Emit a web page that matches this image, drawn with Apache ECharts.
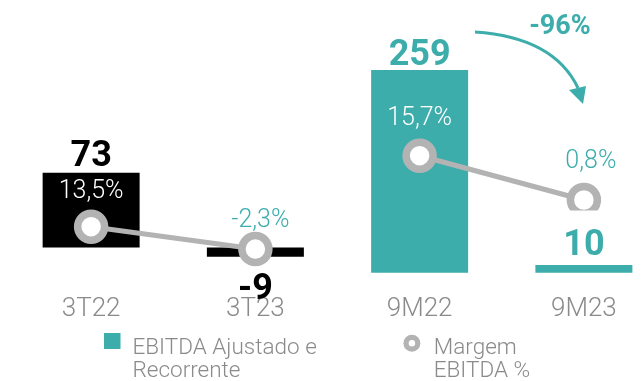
<!DOCTYPE html>
<html>
<head>
<meta charset="utf-8">
<script src="https://cdn.jsdelivr.net/npm/echarts@6/dist/echarts.min.js"></script>
<style>
  html, body { margin: 0; padding: 0; background: #fff; }
  #chart { width: 644px; height: 381px; }
</style>
</head>
<body>
<div id="chart"></div>
<script>
// Periods on the category axis
const categories = ['3T22', '3T23', '9M22', '9M23'];
// EBITDA Ajustado e Recorrente (R$ milhões): quarter block and nine-month block
const ebitdaQuarter = [73, -9, null, null];
const ebitdaNineMonths = [null, null, 259, 10];
// Margem EBITDA (%)
const marginQuarter = [13.5, -2.3, null, null];
const marginNineMonths = [null, null, 15.7, 0.8];
// Legend entries
const seriesNames = ['EBITDA Ajustado e\nRecorrente', 'Margem\nEBITDA %'];

const TEAL = '#3dadac';
const GRAY = '#b3b3b3';
const TEXT_GRAY = '#8a8a8a';
const FONT = 'Roboto';

// Label colour / gap / sideways nudge for each margin point
const marginLabelColors = ['#ffffff', TEAL, '#ffffff', TEAL];
const marginLabelGaps = [5, -1, 7, 9];
const marginLabelNudge = [0, 5, 0, 7];

const fmtPct = v => v.toFixed(1).replace('.', ',') + '%';

function marginData(values) {
  return values.map((v, i) => v == null ? '-' : {
    value: v,
    label: {
      color: marginLabelColors[i],
      distance: marginLabelGaps[i],
      offset: [marginLabelNudge[i], 0]
    }
  });
}

function barData(values) {
  return values.map(v => v == null ? '-' : {
    value: v,
    label: { position: v < 0 ? 'bottom' : 'top', distance: v < 0 ? 15 : -2 }
  });
}

// Nine-month value labels; the last one sits under the margin marker and
// gets a white backing that trims the marker's lower edge
function nineMonthLabelData(values) {
  const last = values.length - 1;
  return values.map((v, i) => v == null ? '-' : {
    value: v,
    label: i === last
      ? { distance: 0, backgroundColor: '#ffffff', padding: [18, 6, 0, 6] }
      : { distance: -5 }
  });
}

// Change between the two nine-month periods
const nmFirst = ebitdaNineMonths[2];
const nmLast = ebitdaNineMonths[3];
const changeText = Math.round((nmLast - nmFirst) / nmFirst * 100) + '%';

const chart = echarts.init(document.getElementById('chart'), null, { renderer: 'canvas' });

const marginLine = {
  type: 'line',
  name: seriesNames[1],
  symbol: 'circle',
  symbolSize: 27,
  z: 3,
  itemStyle: { color: '#ffffff', borderColor: GRAY, borderWidth: 7.5 },
  lineStyle: { color: GRAY, width: 5 },
  label: {
    show: true,
    position: 'top',
    fontFamily: FONT,
    fontSize: 25,
    fontWeight: 300,
    formatter: p => fmtPct(p.value)
  },
  emphasis: { disabled: true }
};

// Legend text: an empty leading line of height `lead` keeps the marker
// level with the first text line
function legendText(lead, padLeft) {
  return {
    color: TEXT_GRAY, fontFamily: FONT, fontSize: 22.5, fontWeight: 300,
    lineHeight: 23, padding: [0, 0, 0, padLeft],
    rich: { g: { lineHeight: lead, fontSize: 10 } }
  };
}

chart.setOption({
  animation: false,
  grid: { left: 9, width: 657, top: 0, height: 285, outerBoundsMode: 'none', containLabel: false },
  xAxis: {
    type: 'category',
    data: categories,
    axisLine: { show: false },
    axisTick: { show: false },
    axisLabel: {
      color: TEXT_GRAY,
      fontFamily: FONT,
      fontSize: 26,
      fontWeight: 300,
      margin: 11
    }
  },
  yAxis: [
    { type: 'value', show: false, min: -36.6, max: 241.5 },  // EBITDA, quarter
    { type: 'value', show: false, min: -15.7, max: 348.4 },  // EBITDA, nine months
    { type: 'value', show: false, min: -27.8, max: 174.2 },  // margin, quarter
    { type: 'value', show: false, min: -27.8, max: 68.1 }    // margin, nine months
  ],
  legend: [
    {
      data: [{ name: seriesNames[0], icon: 'rect', itemStyle: { color: TEAL } }],
      left: 104, top: 299.5, padding: 0,
      itemWidth: 16.5, itemHeight: 16,
      selectedMode: false,
      formatter: name => '{g| }\n' + name,
      textStyle: legendText(37, 7)
    },
    {
      data: [{
        name: seriesNames[1], icon: 'circle',
        itemStyle: { color: '#ffffff', borderColor: GRAY, borderWidth: 5.25 }
      }],
      left: 403.4, top: 304, padding: 0,
      itemWidth: 11.75, itemHeight: 11.75,
      selectedMode: false,
      formatter: name => '{g| }\n' + name,
      textStyle: legendText(32.4, 11)
    }
  ],
  series: [
    {
      type: 'bar',
      name: seriesNames[0],
      yAxisIndex: 0,
      data: barData(ebitdaQuarter),
      barWidth: 97,
      barGap: '-100%',
      itemStyle: { color: '#000000' },
      label: {
        show: true,
        color: '#000000',
        fontFamily: FONT,
        fontSize: 36,
        fontWeight: 'bold'
      },
      emphasis: { disabled: true }
    },
    {
      type: 'bar',
      name: seriesNames[0],
      yAxisIndex: 1,
      data: ebitdaNineMonths.map(v => v == null ? '-' : v),
      barWidth: 97,
      barGap: '-100%',
      itemStyle: { color: TEAL },
      emphasis: { disabled: true }
    },
    Object.assign({}, marginLine, { yAxisIndex: 2, data: marginData(marginQuarter) }),
    Object.assign({}, marginLine, { yAxisIndex: 3, data: marginData(marginNineMonths) }),
    {
      // value labels of the nine-month bars, drawn above the margin markers
      type: 'scatter',
      yAxisIndex: 1,
      z: 6,
      silent: true,
      symbolSize: 1,
      itemStyle: { color: 'rgba(255,255,255,0)' },
      data: nineMonthLabelData(ebitdaNineMonths),
      label: {
        show: true,
        opacity: 1,
        position: 'top',
        color: TEAL,
        fontFamily: FONT,
        fontSize: 36,
        fontWeight: 'bold'
      },
      emphasis: { disabled: true }
    }
  ],
  graphic: [
    {
      type: 'bezierCurve',
      shape: { x1: 475, y1: 32, cpx1: 520, cpy1: 35, cpx2: 560, cpy2: 50, x2: 578, y2: 88 },
      style: { stroke: TEAL, lineWidth: 3, fill: null },
      silent: true
    },
    {
      type: 'polygon',
      shape: { points: [[569, 90], [586, 86], [583, 104]] },
      style: { fill: TEAL },
      silent: true
    },
    {
      type: 'text',
      x: 560, y: 27,
      style: {
        text: changeText,
        fill: TEAL,
        fontFamily: FONT,
        fontSize: 27,
        fontWeight: 'bold',
        align: 'center',
        verticalAlign: 'middle'
      },
      silent: true
    }
  ]
});
</script>
</body>
</html>
